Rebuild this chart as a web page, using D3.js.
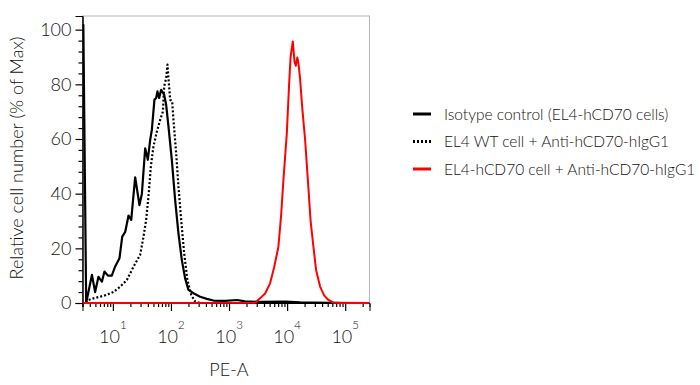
<!DOCTYPE html>
<html>
<head>
<meta charset="utf-8">
<script src="https://cdn.jsdelivr.net/npm/d3@7"></script>
<style>
  body { margin: 0; background: #fff; }
  text { font-family: Lato, "Open Sans", sans-serif; font-weight: 300; fill: #111; }
</style>
</head>
<body>
<div id="chart"></div>
<script>
// datos (PE-A, % of max)
const isoX = [3.1, 3.47, 4.36, 4.95, 5.65, 6.47, 7.17, 8.2, 9.6, 10.9, 13.0, 14.5, 16.3, 18.6, 20.7, 24.2, 28.7, 31.6, 36, 40, 43.9, 46.9, 52, 55.6, 58.6, 62.7, 67.8, 76.4, 82.7, 90.6, 103.5, 118, 134.6, 154, 175.5, 200, 244, 318, 415, 539, 857, 1377, 1890, 3427, 9240, 16750, 55000, 262000]
const isoY = [102, 0, 10.3, 4, 9.6, 7.8, 11.5, 10, 10, 13.3, 16.4, 24.3, 26, 32, 30.4, 46, 35.8, 40, 56.6, 52.4, 59.7, 63.4, 74.4, 75, 77.4, 75, 78, 76.2, 72.5, 64.6, 52.4, 37.7, 25.5, 15.7, 9, 4.8, 3.6, 2.3, 1.5, 0.9, 0.8, 1.1, 0.6, 0.4, 0.5, 0.2, 0.1, 0]

const wtX = [3.47, 3.8, 4.64, 6.04, 7.89, 10.2, 13.4, 17.4, 22.7, 29.5, 33.7, 37.4, 41, 45.1, 50, 57.2, 65.2, 72.6, 76.4, 82.7, 87.1, 92, 96.9, 104.9, 110.5, 123, 134.6, 150, 168.8, 192, 223, 261, 318, 262000]
const wtY = [0, 1.1, 1.7, 2.3, 3, 4, 6, 8.4, 13.3, 17.6, 24.3, 30.4, 38.9, 50, 57.3, 62.7, 67, 70, 79.2, 82.3, 87.2, 80.5, 74.4, 73.7, 67, 54.8, 42.6, 30.4, 18.2, 8.4, 3, 0.5, 0, 0]

const cd70X = [3.1, 2812, 3427, 4178, 5094, 5970, 7080, 7880, 8640, 9880, 10820, 11480, 12530, 13460, 14120, 14990, 15640, 16750, 18130, 20420, 23280, 25380, 28370, 31560, 36980, 43340, 51410, 61940, 81700, 262000]
const cd70Y = [0, 0.1, 1.7, 3.5, 7.2, 13, 20.6, 32, 45, 62, 80, 90, 95.7, 88, 86.8, 89.8, 87.8, 82, 72, 59.7, 42, 30, 20.6, 12, 6, 2.8, 1.1, 0.2, 0, 0]

const seriesNames = ["Isotype control (EL4-hCD70 cells)", "EL4 WT cell + Anti-hCD70-hIgG1", "EL4-hCD70 cell + Anti-hCD70-hIgG1"]
const xTickExp = [1, 2, 3, 4, 5]
const yTicks = [0, 20, 40, 60, 80, 100]

// constantes
const width = 700
const height = 385
const plot = { left: 82.5, right: 369.5, top: 16, bottom: 303 }

const svg = d3.select("#chart").append("svg").attr("width", width).attr("height", height)

const x = d3.scaleLog().domain([3, 262144]).range([plot.left, plot.right])
const y = d3.scaleLinear().domain([0, 105]).range([plot.bottom, plot.top])

// marco gris
svg.append("rect")
    .attr("x", plot.left).attr("y", plot.top)
    .attr("width", plot.right - plot.left).attr("height", plot.bottom - plot.top)
    .attr("fill", "none").attr("stroke", "#b5b5b5").attr("stroke-width", 1)

// eje y
const yMinor = d3.range(0, 101, 4).filter(v => v % 20 !== 0)
const yAxisGroup = svg.append("g").attr("transform", `translate(${plot.left},0)`)
yAxisGroup.call(d3.axisLeft(y).tickValues(yMinor).tickSize(4).tickFormat(""))
yAxisGroup.append("g").call(d3.axisLeft(y).tickValues(yTicks).tickSize(7).tickPadding(4))
yAxisGroup.selectAll("path").attr("stroke", "#000")
yAxisGroup.selectAll("line").attr("stroke", "#000").attr("stroke-width", 1.2)
yAxisGroup.selectAll("text").style("font-size", "18px").style("fill", "#111").style("font-family", "Lato, sans-serif").style("font-weight", 300)

// eje x
const xMinor = []
for (let e = 0; e <= 5; e++) for (let m = 2; m <= 9; m++) {
    const v = m * Math.pow(10, e)
    if (v >= 3 && v <= 262144) xMinor.push(v)
}
const xAxisGroup = svg.append("g").attr("transform", `translate(0,${plot.bottom})`)
xAxisGroup.call(d3.axisBottom(x).tickValues(xMinor).tickSize(4).tickFormat(""))
xAxisGroup.append("g").call(d3.axisBottom(x).tickValues(xTickExp.map(e => Math.pow(10, e))).tickSize(8).tickFormat(""))
xAxisGroup.selectAll("path").attr("stroke", "#000")
xAxisGroup.selectAll("line").attr("stroke", "#000").attr("stroke-width", 1.2)

const xLabels = svg.append("g").selectAll("text").data(xTickExp).join("text")
    .attr("x", d => x(Math.pow(10, d)))
    .attr("y", 343)
    .attr("text-anchor", "middle")
xLabels.append("tspan").style("font-size", "18px").text("10")
xLabels.append("tspan").style("font-size", "11.5px").attr("dy", -14).text(d => d)

// titulos
svg.append("text").attr("x", 229).attr("y", 376).attr("text-anchor", "middle")
    .style("font-size", "18px").text("PE-A")
svg.append("text").attr("transform", "translate(23,158) rotate(-90)").attr("text-anchor", "middle")
    .style("font-size", "18px").text("Relative cell number (% of Max)")

// lineas
const line = d3.line().x(d => x(d[0])).y(d => y(d[1]))
const clip = svg.append("clipPath").attr("id", "clip").append("rect")
    .attr("x", plot.left).attr("y", 0).attr("width", plot.right - plot.left).attr("height", plot.bottom + 2)
const lines = svg.append("g").attr("clip-path", "url(#clip)")

const series = [
    { pts: d3.zip(isoX, isoY), color: "#000", dash: null, w: 2.2 },
    { pts: d3.zip(wtX, wtY), color: "#000", dash: "2,2", w: 2.2 },
    { pts: d3.zip(cd70X, cd70Y), color: "#ff0000", dash: null, w: 2 }
]
lines.selectAll("path").data(series).join("path")
    .attr("d", d => line(d.pts))
    .attr("fill", "none")
    .attr("stroke", d => d.color)
    .attr("stroke-width", d => d.w)
    .attr("stroke-dasharray", d => d.dash)
    .attr("stroke-linejoin", "round")

// leyenda
const legend = svg.append("g").selectAll("g").data(series).join("g")
    .attr("transform", (d, i) => `translate(413,${114 + i * 27.5})`)
legend.append("line").attr("x1", 0).attr("x2", 18)
    .attr("stroke", d => d.color).attr("stroke-width", 3)
    .attr("stroke-dasharray", d => d.dash)
legend.append("text").attr("x", 31).attr("y", 5.5).style("font-size", "15.5px")
    .text((d, i) => seriesNames[i])
</script>
</body>
</html>
